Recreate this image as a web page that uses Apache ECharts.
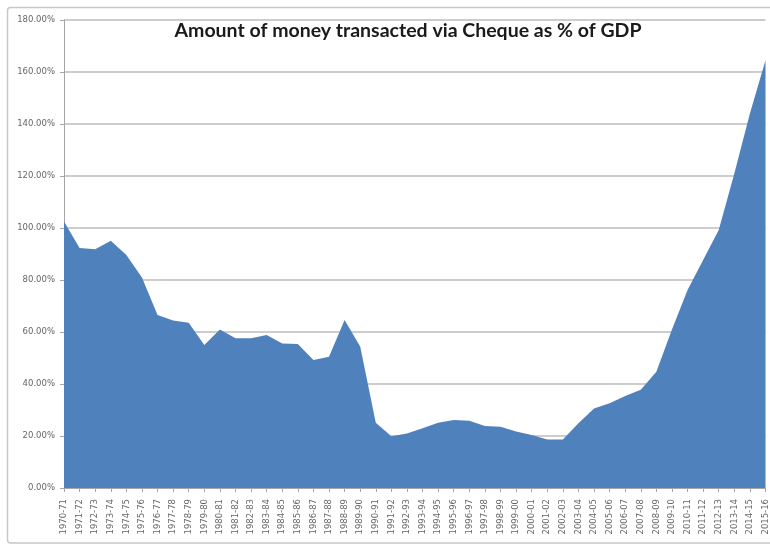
<!DOCTYPE html>
<html>
<head>
<meta charset="utf-8">
<script src="https://cdn.jsdelivr.net/npm/echarts@6/dist/echarts.min.js"></script>
<style>
  html, body { margin: 0; padding: 0; background: #fff; }
  #chart { width: 770px; height: 545px; }
</style>
</head>
<body>
<div id="chart"></div>
<script>
// Fiscal years shown along the category axis
const years = [
  '1970-71','1971-72','1972-73','1973-74','1974-75','1975-76','1976-77','1977-78',
  '1978-79','1979-80','1980-81','1981-82','1982-83','1983-84','1984-85','1985-86',
  '1986-87','1987-88','1988-89','1989-90','1990-91','1991-92','1992-93','1993-94',
  '1994-95','1995-96','1996-97','1997-98','1998-99','1999-00','2000-01','2001-02',
  '2002-03','2003-04','2004-05','2005-06','2006-07','2007-08','2008-09','2009-10',
  '2010-11','2011-12','2012-13','2013-14','2014-15','2015-16'
];

// Cheque transactions as a percentage of GDP
const chequePct = [
  102.5, 92.3, 91.8, 95.1, 89.6, 81.0, 66.5, 64.4,
  63.6, 55.0, 61.0, 57.6, 57.6, 58.8, 55.6, 55.4,
  49.2, 50.5, 64.6, 54.4, 25.1, 19.9, 21.0, 23.0,
  25.1, 26.2, 25.9, 23.8, 23.6, 21.7, 20.4, 18.7,
  18.7, 24.9, 30.6, 32.6, 35.4, 37.8, 44.7, 61.0,
  76.2, 87.7, 99.2, 121.0, 144.0, 164.5
];

// Value-axis range
const yMin = 0, yMax = 180, yStep = 20;

const chart = echarts.init(document.getElementById('chart'), null, { renderer: 'canvas' });

chart.setOption({
  animation: false,
  backgroundColor: '#ffffff',
  title: {
    text: 'Amount of money transacted via Cheque as % of GDP',
    left: 403,
    textAlign: 'center',
    top: 16,
    textStyle: {
      fontFamily: 'Lato',
      fontWeight: 'bold',
      fontSize: 19.5,
      color: '#1a1a1a'
    }
  },
  graphic: [{
    type: 'rect',
    shape: { x: 7.5, y: 7.5, width: 775, height: 535.5, r: 3 },
    style: { fill: 'none', stroke: '#c8c8c8', lineWidth: 1.5 },
    z: 0
  }],
  grid: { left: 64, right: 3, top: 20, bottom: 57 },
  xAxis: {
    type: 'category',
    data: years,
    boundaryGap: false,
    axisLine: { show: true, lineStyle: { color: '#a6a6a6', width: 1 } },
    axisTick: { show: true, interval: 0, length: 4, lineStyle: { color: '#a6a6a6' } },
    axisLabel: {
      interval: 0,
      rotate: 90,
      fontSize: 8.5,
      color: '#666666',
      fontFamily: 'DejaVu Sans',
      margin: 11
    },
    splitLine: { show: false }
  },
  yAxis: {
    type: 'value',
    min: yMin,
    max: yMax,
    interval: yStep,
    axisLine: { show: true, lineStyle: { color: '#a6a6a6', width: 1 } },
    axisTick: { show: true, length: 4, lineStyle: { color: '#a6a6a6' } },
    axisLabel: {
      fontSize: 8.5,
      color: '#666666',
      fontFamily: 'DejaVu Sans',
      margin: 9,
      formatter: v => v.toFixed(2) + '%'
    },
    splitLine: { show: true, lineStyle: { color: '#bdbdbd', width: 1.5 } }
  },
  series: [{
    type: 'line',
    data: chequePct,
    symbol: 'none',
    smooth: false,
    lineStyle: { width: 0 },
    areaStyle: { color: '#4f81bd', opacity: 1 },
    z: 3
  }]
});
</script>
</body>
</html>
